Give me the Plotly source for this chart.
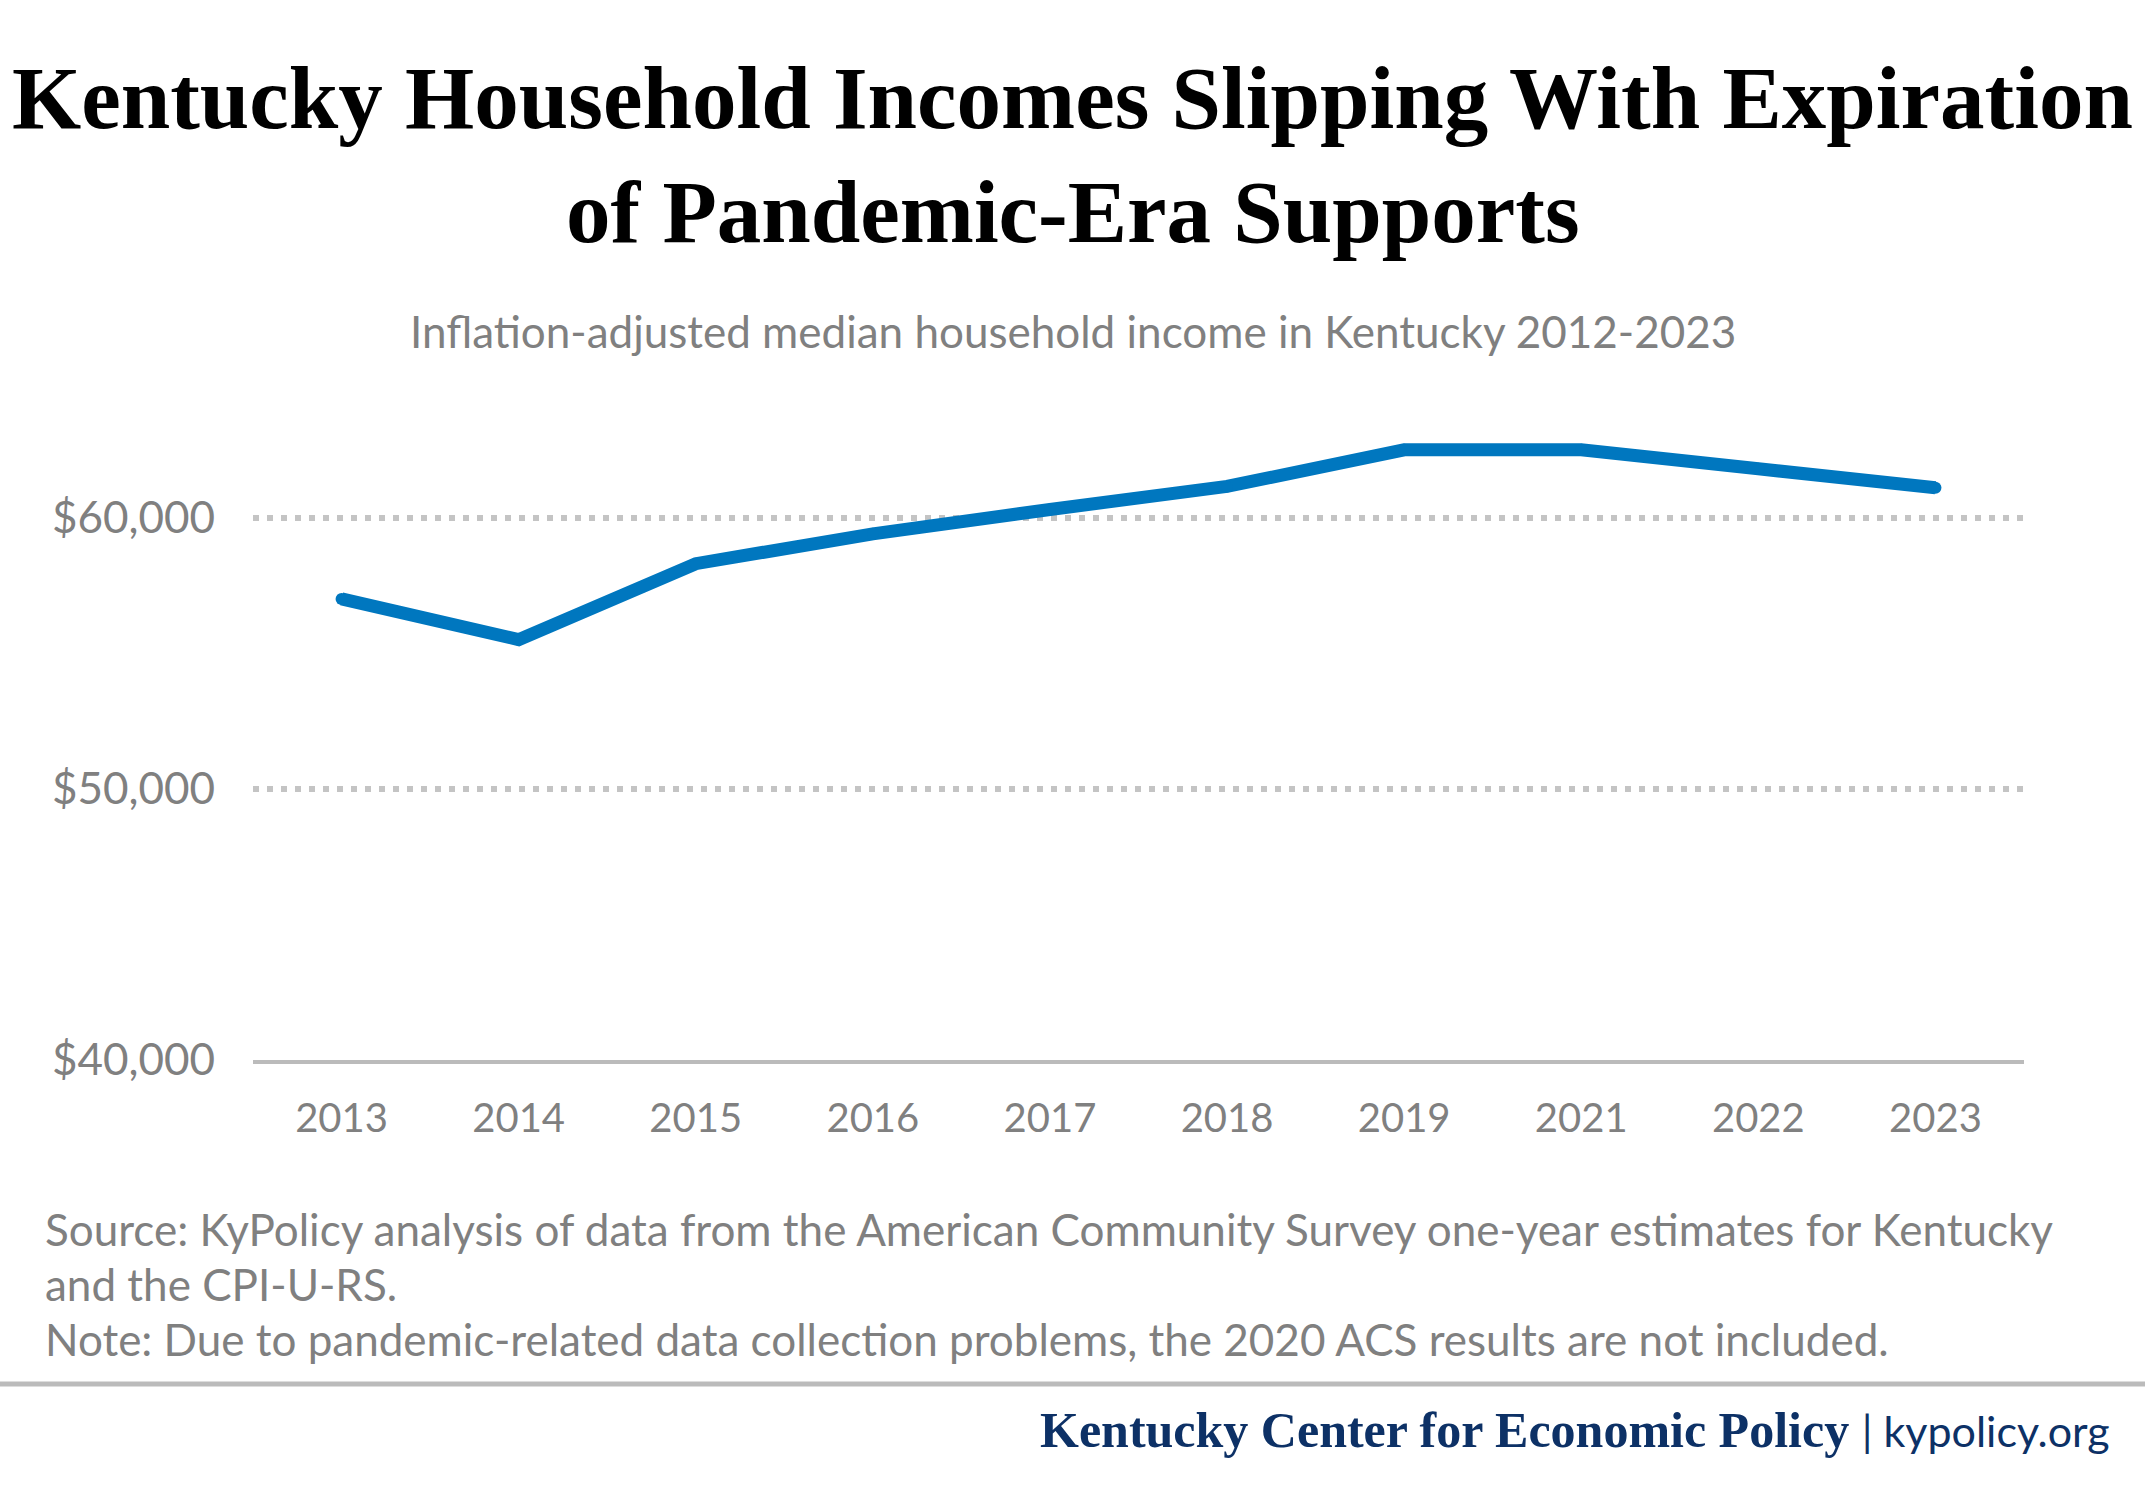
import plotly.graph_objects as go

years = ["2013", "2014", "2015", "2016", "2017", "2018", "2019", "2021", "2022", "2023"]
income = [57000, 55500, 58300, 59400, 60300, 61150, 62500, 62500, 61800, 61100]
tick_vals = [40000, 50000, 60000]
tick_text = ["$40,000", "$50,000", "$60,000"]

title_lines = ["Kentucky Household Incomes Slipping With Expiration", "of Pandemic-Era Supports"]
subtitle = "Inflation-adjusted median household income in Kentucky 2012-2023"
notes = [
    "Source: KyPolicy analysis of data from the American Community Survey one-year estimates for Kentucky",
    "and the CPI-U-RS.",
    "Note: Due to pandemic-related data collection problems, the 2020 ACS results are not included.",
]
brand = "Kentucky Center for Economic Policy"
brand_url = "kypolicy.org"

W, H = 2145, 1485
L, R, T, B = 253, 121, 382, 425
plot_w = W - L - R
plot_h = H - T - B

def px(x):
    return (x - L) / plot_w

def py(y):
    return (H - B - y) / plot_h

GRAY = "#808080"
SANS = "Lato, 'Open Sans', sans-serif"
SERIF = "'Liberation Serif', 'DejaVu Serif', serif"
NAVY = "#0d3166"

fig = go.Figure()
fig.add_trace(go.Scatter(
    x=years, y=income, mode="lines+markers",
    line=dict(color="#0077bf", width=13),
    marker=dict(color="#0077bf", size=12),
    hoverinfo="skip", showlegend=False,
))

annotations = []
for i, line in enumerate(title_lines):
    annotations.append(dict(
        text="<b>" + line + "</b>", x=px(W / 2), y=py(98 + i * 114),
        xref="paper", yref="paper", xanchor="center", yanchor="middle",
        showarrow=False, font=dict(family=SERIF, size=89, color="#000000"),
    ))
annotations.append(dict(
    text=subtitle, x=px(W / 2), y=py(331), xref="paper", yref="paper",
    xanchor="center", yanchor="middle", showarrow=False,
    font=dict(family=SANS, size=44, color=GRAY),
))
for i, line in enumerate(notes):
    annotations.append(dict(
        text=line, x=px(43), y=py(1229 + i * 55), xref="paper", yref="paper",
        xanchor="left", yanchor="middle", showarrow=False,
        font=dict(family=SANS, size=44, color=GRAY),
    ))
annotations.append(dict(
    text="<b>" + brand + "</b> <span style='font-family:Lato;font-weight:normal;font-size:43px'>| " + brand_url + "</span>",
    x=px(2112), y=py(1430), xref="paper", yref="paper",
    xanchor="right", yanchor="middle", showarrow=False,
    font=dict(family=SERIF, size=50, color=NAVY),
))

fig.update_layout(
    width=W, height=H,
    margin=dict(l=L, r=R, t=T, b=B),
    paper_bgcolor="white", plot_bgcolor="white",
    annotations=annotations,
    shapes=[dict(type="line", xref="paper", yref="paper",
                 x0=px(0), x1=px(W), y0=py(1384), y1=py(1384),
                 line=dict(color="#bbbbbb", width=5))],
    xaxis=dict(
        type="category", range=[-0.5, 9.5], showgrid=False,
        showline=True, linecolor="#bbbbbb", linewidth=4,
        ticks="", tickfont=dict(family=SANS, size=40, color=GRAY),
        ticklabelstandoff=20,
    ),
    yaxis=dict(
        range=[40000, 65000], tickvals=tick_vals, ticktext=tick_text,
        showgrid=True, gridcolor="#c4c4c4", gridwidth=6, griddash="6px,8px",
        zeroline=False, showline=False, ticks="",
        tickfont=dict(family=SANS, size=44, color=GRAY),
        ticklabelstandoff=37,
    ),
)

fig.write_html("out.html", config={"displayModeBar": False},
               post_script="document.body.style.margin='0';")
